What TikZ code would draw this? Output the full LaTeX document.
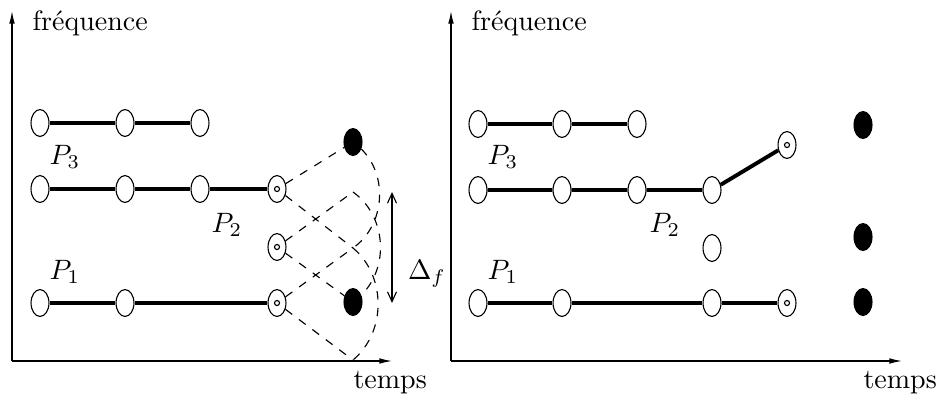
\documentclass[tikz,border=0pt]{standalone}
\usepackage{tikz}
\usetikzlibrary{shapes.geometric, arrows.meta, positioning, calc}

\begin{document}
\begin{tikzpicture}[
        x=0.357pt, y=0.357pt,
        peak/.style={
            ellipse, draw=black, fill=white, thin, inner sep=0pt,
            minimum width=6.4pt, minimum height=9.6pt
        },
        newpeak/.style={peak, fill=black},
        endpeak/.style={peak,
            path picture={\draw[thin] (path picture bounding box.center) circle (0.9pt);}
        },
        traj/.style={line width=1.4pt},
        cand/.style={dashed, thin},
        axis/.style={-{Latex[length=4.5pt, width=2pt]}, thin},
        delta/.style={{Straight Barb[length=3.5pt, width=3.2pt]}-{Straight Barb[length=3.5pt, width=3.2pt]}, thin},
        lbl/.style={inner sep=0pt, anchor=base west}
    ]
    \useasboundingbox (0,0) rectangle (940,397);

    % --- Left: axes ---
    \coordinate (lorig) at (12,36);
    \coordinate (lftop) at (12,386);
    \coordinate (lfend) at (392,36);
    \draw[axis] (lorig) -- (lftop);
    \draw[axis] (lorig) -- (lfend);
    \node[lbl] (lfreq) at (32,367) {fréquence};
    \node[lbl] (ltemps) at (353,9) {temps};

    % --- Left: peaks ---
    \node[peak] (l3a) at (40,274) {};
    \node[peak] (l3b) at (125,274) {};
    \node[peak] (l3c) at (200,274) {};

    \node[peak] (l2a) at (40,208) {};
    \node[peak] (l2b) at (125,208) {};
    \node[peak] (l2c) at (200,208) {};
    \node[endpeak] (l2d) at (277,208) {};

    \node[endpeak] (lmid) at (277,150) {};

    \node[peak] (l1a) at (40,94) {};
    \node[peak] (l1b) at (125,94) {};
    \node[endpeak] (l1d) at (277,94) {};

    \node[newpeak] (lnew1) at (353,255) {};
    \node[newpeak] (lnew2) at (353,95) {};
    \coordinate (lw205) at (353,205);
    \coordinate (lw149) at (353,149);
    \coordinate (lw37) at (353,37);

    \node (lp3) at (65,240) {$P_3$};
    \node (lp2) at (227,172) {$P_2$};
    \node (lp1) at (65,125) {$P_1$};

    % --- Left: trajectories ---
    \draw[traj] (l3a) -- (l3b) -- (l3c);
    \draw[traj] (l2a) -- (l2b) -- (l2c) -- (l2d);
    \draw[traj] (l1a) -- (l1b) -- (l1d);

    % --- Left: candidate zones ---
    \draw[cand] (l2d) -- (lnew1);
    \draw[cand] (l2d) -- (lw149);
    \draw[cand] (lnew1) to[bend left=50] (lw149);
    \draw[cand] (lmid) -- (lw205);
    \draw[cand] (lmid) -- (lnew2);
    \draw[cand] (lw205) to[bend left=50] (lnew2);
    \draw[cand] (l1d) -- (lw149);
    \draw[cand] (l1d) -- (lw37);
    \draw[cand] (lw149) to[bend left=50] (lw37);

    % --- Delta f ---
    \coordinate (dtop) at (392,205);
    \coordinate (dbot) at (392,94);
    \draw[delta] (dtop) -- (dbot);
    \node (dlabel) at (427,123) {$\Delta_f$};

    % --- Right: axes ---
    \coordinate (rorig) at (451,36);
    \coordinate (rftop) at (451,386);
    \coordinate (rfend) at (902,36);
    \draw[axis] (rorig) -- (rftop);
    \draw[axis] (rorig) -- (rfend);
    \node[lbl] (rfreq) at (471,367) {fréquence};
    \node[lbl] (rtemps) at (863,9) {temps};

    % --- Right: peaks ---
    \node[peak] (r3a) at (478,273) {};
    \node[peak] (r3b) at (562,273) {};
    \node[peak] (r3c) at (637,273) {};

    \node[peak] (r2a) at (478,207) {};
    \node[peak] (r2b) at (562,207) {};
    \node[peak] (r2c) at (637,207) {};
    \node[peak] (r2d) at (712,207) {};
    \node[endpeak] (r2e) at (787,252) {};

    \node[peak] (rmid) at (712,149) {};

    \node[peak] (r1a) at (478,94) {};
    \node[peak] (r1b) at (562,94) {};
    \node[peak] (r1d) at (712,94) {};
    \node[endpeak] (r1e) at (787,94) {};

    \node[newpeak] (rnew1) at (863,272) {};
    \node[newpeak] (rnew2) at (863,160) {};
    \node[newpeak] (rnew3) at (863,95) {};

    \node (rp3) at (503,240) {$P_3$};
    \node (rp2) at (665,172) {$P_2$};
    \node (rp1) at (503,125) {$P_1$};

    % --- Right: trajectories ---
    \draw[traj] (r3a) -- (r3b) -- (r3c);
    \draw[traj] (r2a) -- (r2b) -- (r2c) -- (r2d) -- (r2e);
    \draw[traj] (r1a) -- (r1b) -- (r1d) -- (r1e);

\end{tikzpicture}
\end{document}
